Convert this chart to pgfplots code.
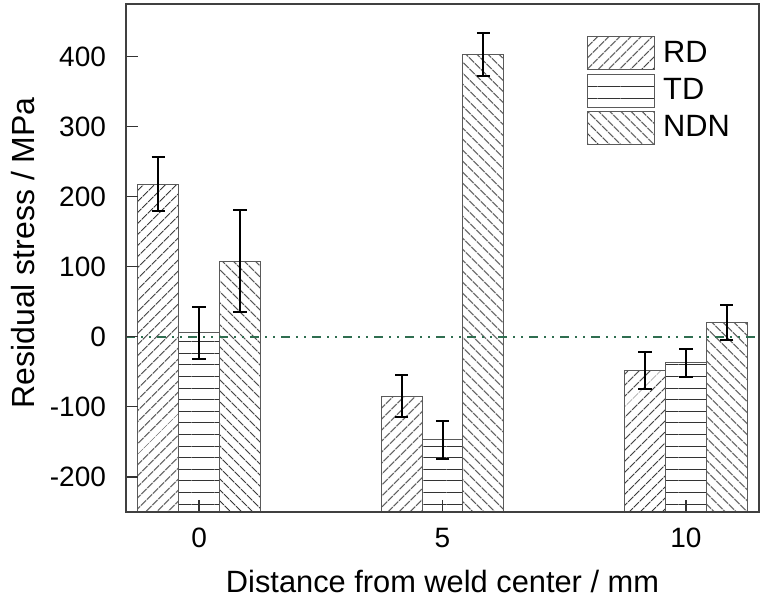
\documentclass[border=0pt]{standalone}
\usepackage{fontspec}
\setmainfont{Liberation Sans}
\usepackage{pgfplots}
\pgfplotsset{compat=1.18}
\usetikzlibrary{patterns.meta}
\definecolor{zline}{RGB}{47,110,80}
\definecolor{barline}{RGB}{90,90,90}
\begin{document}
\begin{tikzpicture}
\begin{axis}[
  scale only axis,
  width=316.5pt, height=254pt,
  ybar,
  xmin=-1.5, xmax=11.5,
  ymin=0, ymax=725,
  y filter/.expression={y+250},
  xtick={0,5,10},
  ytick={50,150,250,350,450,550,650},
  yticklabels={-200,-100,0,100,200,300,400},
  tick align=inside,
  xtick pos=bottom, ytick pos=left,
  major tick length=6pt,
  tick style={line width=0.6pt, color=black!80},
  axis line style={line width=0.6pt, color=black!75},
  axis on top,
  /pgf/number format/assume math mode=true,
  tick label style={font=\fontsize{14}{16}\selectfont},
  yticklabel style={xshift=-6.5pt},
  xticklabel style={yshift=-4.5pt},
  label style={font=\fontsize{15.4}{18}\selectfont},
  xlabel={Distance from weld center / mm},
  ylabel={Residual stress / MPa},
  xlabel style={at={(axis description cs:0.5,0)}, anchor=center, yshift=-34.5pt},
  ylabel style={at={(axis description cs:-0.163,0.51)}, anchor=center, font=\fontsize{16}{18}\selectfont},
  legend style={draw=none, fill=none, at={(axis description cs:0.728,0.937)}, anchor=north west,
    font=\fontsize{15.4}{18}\selectfont, row sep=1.6pt, inner sep=0pt,
    nodes={inner xsep=4pt}},
  legend cell align=left,
  legend image code/.code={\draw[#1] (0pt,-8.25pt) rectangle (33.5pt,8.25pt);},
  error bars/error bar style={line width=1pt, black},
  error bars/error mark options={rotate=90, mark size=3.3pt, line width=1pt, black},
]
\addplot[bar width=0.84, bar shift=-0.84, draw=barline, line width=0.5pt,
  pattern={Lines[angle=45,distance=4pt,line width=0.5pt]}, pattern color=black!80,
  error bars/.cd, y dir=both, y explicit]
  coordinates {(0,218) +- (0,38) (5,-85) +- (0,30) (10,-48) +- (0,27)};
\addlegendentry{RD}
\addplot[bar width=0.84, bar shift=0, draw=barline, line width=0.5pt,
  pattern={Lines[angle=0,distance=5.8pt,line width=0.5pt]}, pattern color=black!80,
  error bars/.cd, y dir=both, y explicit]
  coordinates {(0,6) +- (0,37) (5,-147) +- (0,27) (10,-37) +- (0,20)};
\addlegendentry{TD}
\addplot[bar width=0.84, bar shift=0.84, draw=barline, line width=0.5pt,
  pattern={Lines[angle=-45,distance=4pt,line width=0.5pt]}, pattern color=black!80,
  error bars/.cd, y dir=both, y explicit]
  coordinates {(0,108) +- (0,73) (5,403) +- (0,31) (10,20) +- (0,25)};
\addlegendentry{NDN}
\addplot[sharp plot, forget plot, zline, line width=1.2pt,
  dash pattern=on 4.5pt off 3pt on 1pt off 3pt on 1pt off 3pt]
  coordinates {(-1.5,0) (11.5,0)};
\end{axis}
\pgfresetboundingbox
\path ([shift={(-63pt,-42.5pt)}]current axis.south west) rectangle ([shift={(4.5pt,2pt)}]current axis.north east);
\end{tikzpicture}
\end{document}
